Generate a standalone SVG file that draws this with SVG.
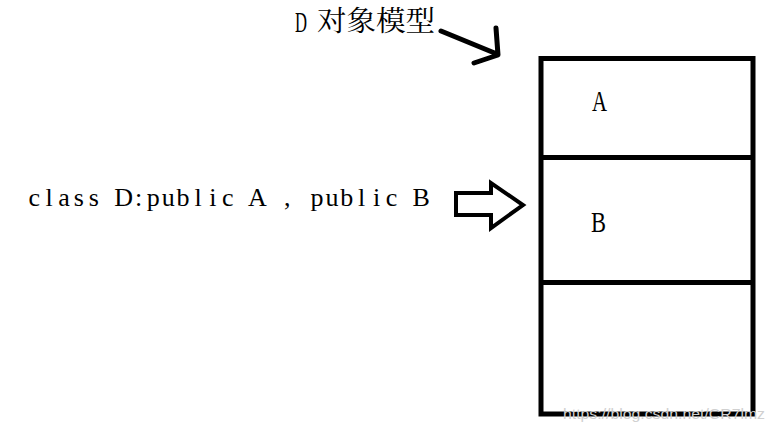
<svg xmlns="http://www.w3.org/2000/svg" width="775" height="435" viewBox="0 0 775 435">
<style>
.box{fill:none;stroke:#000;stroke-width:5}
.t{font-family:"Liberation Serif","Noto Sans CJK SC",serif;fill:#000}
.cjk{font-family:"Noto Serif CJK SC","Noto Sans CJK SC",serif;fill:#000}
.conn{fill:none;stroke:#000;stroke-width:5;stroke-linecap:round;stroke-linejoin:round}
.hollow{fill:#fff;stroke:#000;stroke-width:4;stroke-linejoin:miter}
.wm{font-family:"Liberation Sans",Arial,sans-serif;fill:#d0d0d0}
</style>
<rect width="775" height="435" fill="#fff"/>
<g id="title">
<text class="t" x="295" y="32" font-size="30" textLength="12" lengthAdjust="spacingAndGlyphs">D</text>
<text class="cjk" x="317" y="31" font-size="28" textLength="118" lengthAdjust="spacingAndGlyphs">对象模型</text>
</g>
<g id="declaration">
<text class="t" y="206" font-size="26" text-anchor="middle" x="34.3 49.2 64.1 78.9 93.8 108.7 123.6 138.5 153.3 168.2 183.1 198.0 212.9 227.7 242.6 257.5 272.4 287.3 302.1 317.0 331.9 346.8 361.7 376.5 391.4 406.3 421.2">class D:public A , public B</text>
</g>
<g id="object-model">
<rect class="box" x="541" y="58.5" width="212" height="355.5"/>
<line class="box" x1="541" y1="157.5" x2="753" y2="157.5"/>
<line class="box" x1="541" y1="282.5" x2="753" y2="282.5"/>
</g>
<g id="part-A">
<text class="t" x="592" y="111" font-size="30" textLength="15" lengthAdjust="spacingAndGlyphs">A</text>
</g>
<g id="part-B">
<text class="t" x="591" y="232" font-size="30" textLength="15" lengthAdjust="spacingAndGlyphs">B</text>
</g>
<g id="connectors">
<path class="conn" d="M441 31 L497 54 M496 28 L498 55 L474 63"/>
<polygon class="hollow" points="456,193 491,193 491,183 523,205 491,228 491,215 456,215"/>
</g>
<text class="wm" x="563" y="419" font-size="15" textLength="202" lengthAdjust="spacingAndGlyphs">https://blog.csdn.net/CR7lmz</text>
</svg>
